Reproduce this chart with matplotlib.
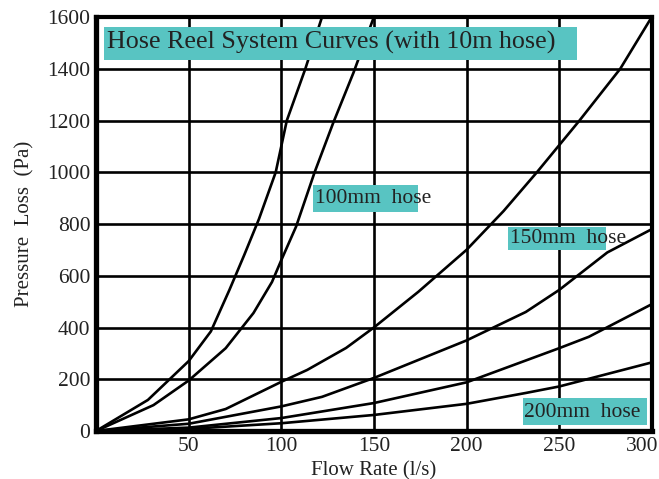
import matplotlib.pyplot as plt
from matplotlib.patches import Rectangle
from matplotlib.transforms import ScaledTranslation

# flow rate (l/s) and pressure loss (Pa)
hose100_a_x = [0, 28, 50, 62, 72, 80, 88, 97, 103, 113, 122]
hose100_a_y = [0, 120, 270, 385, 545, 680, 820, 1000, 1200, 1400, 1600]
hose100_b_x = [0, 31, 50, 70, 85, 95, 100, 108, 118, 128, 139, 150]
hose100_b_y = [0, 100, 195, 320, 456, 576, 660, 790, 1000, 1190, 1385, 1600]
hose150_a_x = [0, 50, 70, 100, 114, 135, 150, 174, 200, 220, 238, 261, 283, 300]
hose150_a_y = [0, 45, 85, 190, 236, 321, 400, 538, 700, 850, 1000, 1200, 1400, 1600]
hose150_b_x = [0, 50, 100, 122, 150, 200, 232, 250, 276, 300]
hose150_b_y = [0, 28, 95, 132, 205, 350, 460, 545, 690, 780]
hose200_a_x = [0, 50, 100, 150, 200, 250, 266, 300]
hose200_a_y = [0, 13, 50, 108, 188, 320, 364, 490]
hose200_b_x = [0, 50, 100, 150, 200, 232, 250, 300]
hose200_b_y = [0, 8, 30, 62, 105, 147, 172, 265]

x_ticks = [50, 100, 150, 200, 250, 300]
y_ticks = [0, 200, 400, 600, 800, 1000, 1200, 1400, 1600]

title = "Hose Reel System Curves (with 10m hose)"
teal = "#58C4C2"
ink = '#222222'

plt.rcParams['font.family'] = ['Liberation Serif', 'DejaVu Serif']

fig = plt.figure(figsize=(6.59, 4.79), dpi=100)
ax = fig.add_axes([0.1457, 0.1002, 0.8433, 0.8643])

ax.set_xlim(0, 300)
ax.set_ylim(0, 1600)
ax.set_xticks(x_ticks)
ax.set_yticks(y_ticks)
ax.tick_params(length=0, labelsize=15.5, colors=ink, pad=4)
ax.grid(True, color='black', linewidth=1.9)
ax.set_axisbelow(True)

# last x label sits hard against the right edge
last = ax.get_xticklabels()[-1]
last.set_ha('right')
last.set_transform(last.get_transform() + ScaledTranslation(7 / 100, 0, fig.dpi_scale_trans))

for side, w in [('left', 3.8), ('bottom', 3.8), ('right', 3.0), ('top', 3.0)]:
    ax.spines[side].set_linewidth(w)
    ax.spines[side].set_color('black')

for xs, ys in [(hose100_a_x, hose100_a_y), (hose100_b_x, hose100_b_y),
               (hose150_a_x, hose150_a_y), (hose150_b_x, hose150_b_y),
               (hose200_a_x, hose200_a_y), (hose200_b_x, hose200_b_y)]:
    ax.plot(xs, ys, color='black', linewidth=1.9, zorder=3)

# teal label boxes (text runs past the box in a couple of places, like the original)
boxes = [(4.3, 1432, 255.3, 128), (117, 848, 57, 104), (222.3, 700, 52.9, 89), (230.4, 23, 67, 105)]
for bx, by, bw, bh in boxes:
    ax.add_patch(Rectangle((bx, by), bw, bh, facecolor=teal, edgecolor='none', zorder=4))

ax.text(6, 1500, title, fontsize=18.7, color=ink, va='center', ha='left', zorder=5)
ax.text(118, 898, "100mm  hose", fontsize=15.5, color=ink, va='center', ha='left', zorder=5)
ax.text(223.5, 743, "150mm  hose", fontsize=15.5, color=ink, va='center', ha='left', zorder=5)
ax.text(231, 73, "200mm  hose", fontsize=15.5, color=ink, va='center', ha='left', zorder=5)

ax.set_xlabel("Flow Rate (l/s)", fontsize=15, color=ink, labelpad=4)
ax.set_ylabel("Pressure  Loss  (Pa)", fontsize=15, color=ink, labelpad=9)

fig.savefig("out.png", dpi=100)
